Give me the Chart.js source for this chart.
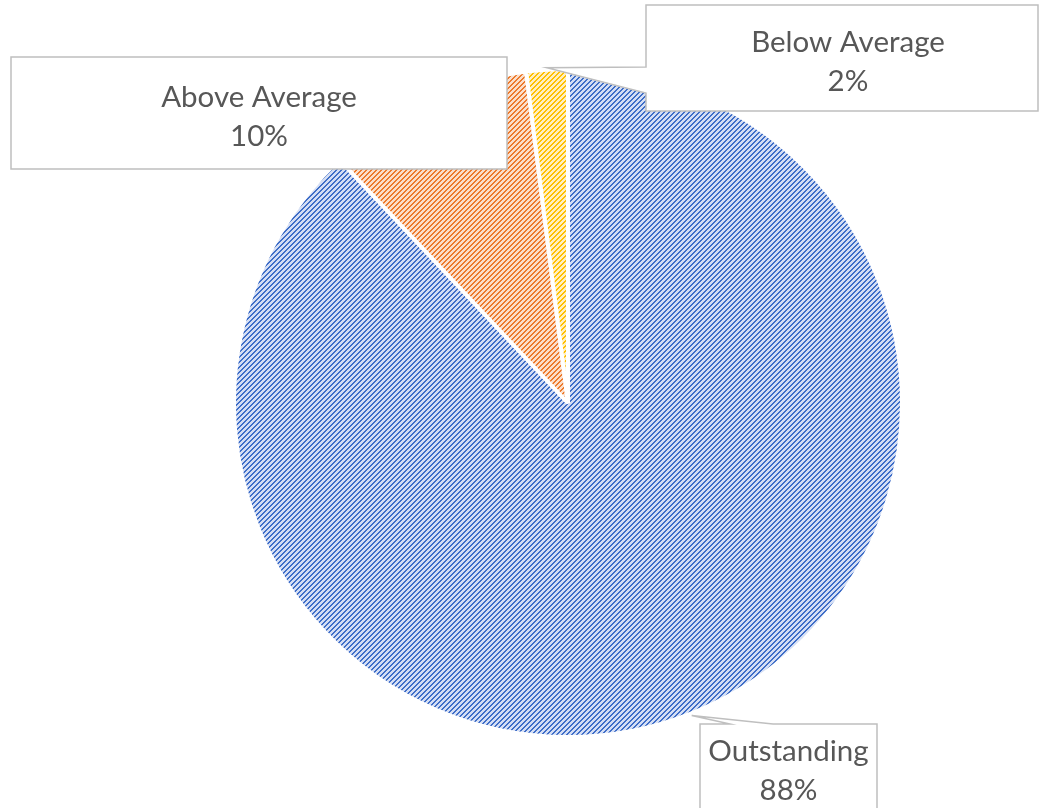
<!DOCTYPE html>
<html>
<head>
<meta charset="utf-8">
<script src="https://cdn.jsdelivr.net/npm/chart.js@4/dist/chart.umd.min.js"></script>
<style>
  html, body { margin: 0; padding: 0; background: #ffffff; }
  #wrap { width: 1040px; height: 808px; }
</style>
</head>
<body>
<div id="wrap"><canvas id="chart" width="1040" height="808"></canvas></div>
<script>
// Rating distribution
const categories = ['Outstanding', 'Above Average', 'Below Average'];
const shares = [88, 10, 2];

// Slice fills: light ground with diagonal hatching
const sliceGrounds = ['#d4def4', '#fbdfcb', '#ffefc0'];
const sliceInks = ['#3f6ec8', '#ec7a2c', '#ffbf00'];

// Callout boxes (pixel layout), the edge their pointer leaves from, text nudge
const calloutLayout = [
  { x: 700, y: 724, w: 177, h: 86, side: 'top', base: [30, 73], dx: 0 },
  { x: 11, y: 57, w: 496, h: 112, side: null, dx: 0 },
  { x: 646, y: 5, w: 392, h: 106, side: 'left', base: [62, 88], dx: 6 }
];

function hatch(ground, ink) {
  const n = 5;
  const c = document.createElement('canvas');
  c.width = n; c.height = n;
  const g = c.getContext('2d');
  g.fillStyle = ground;
  g.fillRect(0, 0, n, n);
  g.fillStyle = ink;
  for (let y = 0; y < n; y++) {
    for (let x = 0; x < n; x++) {
      if ((x + y) % n < 2) g.fillRect(x, y, 1, 1);
    }
  }
  return g.createPattern(c, 'repeat');
}

const calloutPlugin = {
  id: 'callouts',
  afterDatasetsDraw(chart) {
    const ctx = chart.ctx;
    const meta = chart.getDatasetMeta(0);
    const values = chart.data.datasets[0].data;
    const total = values.reduce((a, b) => a + b, 0);
    meta.data.forEach((arc, i) => {
      const box = calloutLayout[i];
      const p = arc.getProps(['x', 'y', 'startAngle', 'endAngle', 'outerRadius'], true);
      const mid = (p.startAngle + p.endAngle) / 2;
      const tipX = p.x + Math.cos(mid) * (p.outerRadius + 2);
      const tipY = p.y + Math.sin(mid) * (p.outerRadius + 2);
      const L = box.x, T = box.y, R = box.x + box.w, B = box.y + box.h;

      ctx.save();
      ctx.beginPath();
      if (box.side === 'left') {
        ctx.moveTo(L, T);
        ctx.lineTo(R, T);
        ctx.lineTo(R, B);
        ctx.lineTo(L, B);
        ctx.lineTo(L, T + box.base[1]);
        ctx.lineTo(tipX, tipY);
        ctx.lineTo(L, T + box.base[0]);
      } else if (box.side === 'top') {
        ctx.moveTo(L, T);
        ctx.lineTo(L + box.base[0], T);
        ctx.lineTo(tipX, tipY);
        ctx.lineTo(L + box.base[1], T);
        ctx.lineTo(R, T);
        ctx.lineTo(R, B);
        ctx.lineTo(L, B);
      } else {
        ctx.rect(L, T, box.w, box.h);
      }
      ctx.closePath();
      ctx.fillStyle = '#ffffff';
      ctx.fill();
      ctx.lineWidth = 1.5;
      ctx.strokeStyle = '#bfbfbf';
      ctx.stroke();

      const pct = Math.round(values[i] / total * 100) + '%';
      ctx.fillStyle = '#575757';
      ctx.font = '29.5px Lato, "Open Sans", sans-serif';
      ctx.textAlign = 'center';
      ctx.textBaseline = 'middle';
      const cx = L + box.w / 2 + box.dx;
      const cy = T + box.h / 2 + 4;
      ctx.fillText(chart.data.labels[i], cx, cy - 19.5);
      ctx.fillText(pct, cx, cy + 19.5);
      ctx.restore();
    });
  }
};

new Chart(document.getElementById('chart'), {
  type: 'pie',
  data: {
    labels: categories,
    datasets: [{
      data: shares,
      backgroundColor: sliceGrounds.map((g, i) => hatch(g, sliceInks[i])),
      borderColor: '#ffffff',
      borderWidth: 4
    }]
  },
  options: {
    responsive: false,
    animation: false,
    layout: { padding: { left: 232, right: 136, top: 67, bottom: 69 } },
    plugins: {
      legend: { display: false },
      tooltip: { enabled: false }
    }
  },
  plugins: [calloutPlugin]
});
</script>
</body>
</html>
